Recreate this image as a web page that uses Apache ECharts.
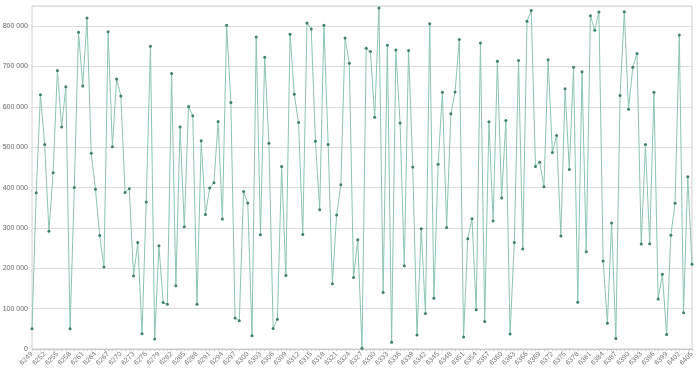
<!DOCTYPE html>
<html><head><meta charset="utf-8">
<script src="https://cdn.jsdelivr.net/npm/echarts@6/dist/echarts.min.js"></script>
<style>html,body{margin:0;padding:0;background:#fff}#c{width:700px;height:370px}</style>
</head><body><div id="c"></div>
<script>
var startCategory = 6249;
var values = [
50000,387000,630000,507000,292000,437000,690000,550000,650000,50000,
400000,785000,652000,820000,485000,396000,281000,203000,786000,501000,
669000,627000,388000,397000,181000,264000,38000,364000,750000,25000,
256000,115000,111000,683000,157000,550000,303000,601000,578000,111000,
516000,333000,399000,412000,564000,322000,802000,611000,77000,70000,
390000,362000,33000,773000,283000,723000,510000,51000,74000,452000,
182000,780000,631000,561000,284000,808000,793000,515000,345000,802000,
507000,162000,332000,407000,771000,708000,177000,271000,2000,745000,
737000,574000,845000,140000,753000,17000,741000,560000,206000,740000,
451000,35000,298000,88000,806000,126000,458000,636000,301000,583000,
637000,767000,30000,273000,323000,97000,758000,68000,563000,317000,
713000,374000,566000,37000,264000,715000,248000,812000,839000,452000,
463000,402000,717000,487000,529000,280000,645000,445000,698000,116000,
687000,241000,826000,790000,835000,218000,64000,312000,26000,628000,
836000,594000,698000,732000,260000,507000,261000,636000,124000,185000,
36000,282000,361000,778000,90000,427000,210000
];
var categories = values.map(function(_, i){ return String(startCategory + i); });

var chart = echarts.init(document.getElementById('c'), null, {renderer:'canvas'});
chart.setOption({
  animation: false,
  grid: {left: 32, right: 8, top: 6, bottom: 21, show: true, borderColor: '#d0d0d0', borderWidth: 1,
         containLabel: false, outerBoundsMode: 'none'},
  xAxis: {
    type: 'category', data: categories, boundaryGap: false,
    axisLine: {lineStyle: {color: '#c8c8c8'}},
    axisTick: {show: true, interval: 0, length: 2, lineStyle: {color: '#c8c8c8'}},
    axisLabel: {interval: 2, rotate: 45, fontSize: 7, color: '#777', margin: 4, fontFamily: 'Liberation Sans'}
  },
  yAxis: {
    type: 'value', min: 0, max: 850000, interval: 100000,
    axisLine: {show: false}, axisTick: {show: false},
    splitLine: {lineStyle: {color: '#dcdcdc'}},
    axisLabel: {fontSize: 7, color: '#666', margin: 4, showMaxLabel: false, fontFamily: 'Liberation Sans',
      formatter: function(v){ return String(v).replace(/\B(?=(\d{3})+(?!\d))/g, ' '); }}
  },
  series: [{
    type: 'line', data: values,
    symbol: 'circle', symbolSize: 3, showSymbol: true, showAllSymbol: true,
    lineStyle: {color: '#8cc4b4', width: 1},
    itemStyle: {color: '#3f7f6e'}
  }]
});
</script></body></html>
